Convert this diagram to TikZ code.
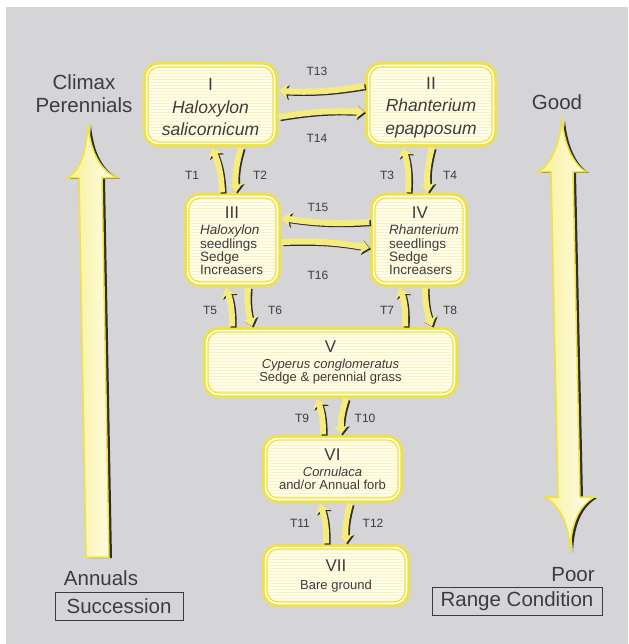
\documentclass[tikz,border=0pt]{standalone}
\usepackage{fontspec}
\setmainfont{Liberation Sans}
\usetikzlibrary{calc,arrows.meta,patterns}
\definecolor{bgc}{RGB}{213,213,216}
\definecolor{byel}{RGB}{240,226,60}
\definecolor{ayel}{RGB}{246,236,125}
\definecolor{boxfill}{RGB}{255,254,238}
\definecolor{stripe}{RGB}{251,244,190}
\definecolor{txt}{RGB}{60,60,62}
\definecolor{shad}{RGB}{45,45,50}
\tikzset{
 stbox/.style={rounded corners=11pt, inner sep=0pt, align=center, text=txt,
   preaction={draw=byel, line width=10pt},
   preaction={draw=white, line width=4.5pt},
   preaction={fill=boxfill},
   preaction={pattern=horizontal lines, pattern color=stripe},
   draw=byel, line width=1.3pt},
 trans/.style={draw=ayel, line width=6pt,
   -{Stealth[length=9pt,width=15pt,inset=2.5pt]},
   preaction={draw=shad, line width=6pt, transform canvas={shift={(1.6pt,-1.2pt)}},
     -{Stealth[length=9pt,width=15pt,inset=2.5pt]}}},
 tlab/.style={font=\fontsize{12}{12}\selectfont, text=txt},
 biglab/.style={font=\fontsize{20.5}{23}\selectfont, text=txt, align=center},
 numf/.style={font=\fontsize{17}{17}\selectfont, text=txt},
 smalltext/.style={font=\fontsize{13.5}{13.4}\selectfont, text=txt, align=left, inner sep=0pt},
 bigtext/.style={font=\fontsize{17.5}{22.5}\selectfont, text=txt, align=center, inner sep=0pt},
 framelab/.style={draw=txt, line width=0.9pt, font=\fontsize{20.5}{23}\selectfont, text=txt, inner sep=0pt},
 bigarrow/.style={left color=byel!55, right color=boxfill, draw=byel, line width=1.5pt},
}
\begin{document}
\begin{tikzpicture}[x=1pt,y=-1pt]
\useasboundingbox (0,0) rectangle (628,644);
\fill[white] (0,0) rectangle (628,644);
\fill[bgc] (6,7) rectangle (628,644);

% big arrows: shadows
\begin{scope}[shift={(3,1)}]
\fill[shad] (88,124) .. controls (91,158) and (104,172) .. (117,178) -- (102,178) -- (109,557) -- (86,557) -- (79,178) -- (67,178) .. controls (78,172) and (86,158) .. (88,124) -- cycle;
\fill[shad] (562,120) .. controls (565,150) and (576,166) .. (586,172) -- (573,172) -- (580,497) -- (594,497) .. controls (581,505) and (571,520) .. (570,552) .. controls (569,520) and (558,505) .. (545,497) -- (558,497) -- (551,172) -- (538,172) .. controls (548,166) and (559,150) .. (562,120) -- cycle;
\end{scope}
\path[bigarrow] (88,124) .. controls (91,158) and (104,172) .. (117,178) -- (102,178) -- (109,557) -- (86,557) -- (79,178) -- (67,178) .. controls (78,172) and (86,158) .. (88,124) -- cycle;
\path[bigarrow] (562,120) .. controls (565,150) and (576,166) .. (586,172) -- (573,172) -- (580,497) -- (594,497) .. controls (581,505) and (571,520) .. (570,552) .. controls (569,520) and (558,505) .. (545,497) -- (558,497) -- (551,172) -- (538,172) .. controls (548,166) and (559,150) .. (562,120) -- cycle;

% side labels
\node[biglab] (climax) at (84,94) {Climax\\Perennials};
\node[biglab] (good) at (557,102) {Good};
\node[biglab] (annuals) at (101,578) {Annuals};
\node[framelab, minimum width=128pt, minimum height=28pt] (succ) at (119,606) {Succession};
\node[biglab] (poor) at (573,575) {Poor};
\node[framelab, minimum width=170pt, minimum height=28pt] (range) at (517,601) {Range Condition};

% state boxes
\node[stbox, minimum width=125pt, minimum height=75pt] (I) at (210.5,104.5) {};
\node[stbox, minimum width=122pt, minimum height=75pt] (II) at (431,104.5) {};
\node[stbox, minimum width=87pt, minimum height=84pt] (III) at (232.5,240) {};
\node[stbox, minimum width=88pt, minimum height=84pt] (IV) at (419,240) {};
\node[stbox, minimum width=245pt, minimum height=61pt, font=\fontsize{13}{13}\selectfont] (V) at (330.5,362.5)
  {{\fontsize{17}{17}\selectfont V}\\[3pt]\textit{Cyperus conglomeratus}\\Sedge \& perennial grass};
\node[stbox, minimum width=131pt, minimum height=58pt, font=\fontsize{13}{13}\selectfont] (VI) at (332.5,469)
  {{\fontsize{17}{17}\selectfont VI}\\[3pt]\textit{Cornulaca}\\and/or Annual forb};
\node[stbox, minimum width=138pt, minimum height=53pt, font=\fontsize{13}{13}\selectfont] (VII) at (336,575.5)
  {{\fontsize{17}{17}\selectfont VII}\\[5pt]Bare ground};

% texts of I and II
\node[bigtext] (t1) at (210.5,107.5) {I\\\textit{Haloxylon}\\\textit{salicornicum}};
\node[bigtext] (t2) at (431,107.5) {II\\\textit{Rhanterium}\\\textit{epapposum}};
% texts of III and IV
\node[numf] (n3) at (232,213) {III};
\node[smalltext, anchor=west] (t3) at (200,250) {\textit{Haloxylon}\\seedlings\\Sedge\\Increasers};
\node[numf] (n4) at (420,213) {IV};
\node[smalltext, anchor=west] (t4) at (389,250) {\textit{Rhanterium}\\seedlings\\Sedge\\Increasers};

% transitions
\draw[trans] ($(II.west)+(-5,-18.5)$) to[bend left=6] ($(I.east)+(5,-13.5)$);
\draw[trans] ($(I.east)+(5,12.5)$) to[bend left=6] ($(II.west)+(-5,7.5)$);
\draw[trans] ($(IV.west)+(-5,-18)$) to[bend left=6] ($(III.east)+(5,-22)$);
\draw[trans] ($(III.east)+(5,2)$) to[bend left=6] ($(IV.west)+(-5,8)$);

\draw[trans] ($(III.north)+(-10.5,-5)$) to[bend right=10] ($(I.south)+(1.5,5)$);
\draw[trans] ($(I.south)+(30.5,5)$) to[bend right=10] ($(III.north)+(3.5,-5)$);
\draw[trans] ($(IV.north)+(-11,-5)$) to[bend right=10] ($(II.south)+(-28,5)$);
\draw[trans] ($(II.south)+(1,5)$) to[bend right=10] ($(IV.north)+(9,-5)$);

\draw[trans] ($(V.north)+(-98.5,-5)$) to[bend right=10] ($(III.south)+(-6.5,5)$);
\draw[trans] ($(III.south)+(15.5,5)$) to[bend right=10] ($(V.north)+(-78.5,-5)$);
\draw[trans] ($(V.north)+(74.5,-5)$) to[bend right=10] ($(IV.south)+(-19,5)$);
\draw[trans] ($(IV.south)+(6,5)$) to[bend right=10] ($(V.north)+(101.5,-5)$);

\draw[trans] ($(VI.north)+(-9.5,-5)$) to[bend right=10] ($(V.south)+(-13.5,5)$);
\draw[trans] ($(V.south)+(15.5,5)$) to[bend right=10] ($(VI.north)+(8.5,-5)$);
\draw[trans] ($(VII.north)+(-10,-5)$) to[bend right=10] ($(VI.south)+(-12.5,5)$);
\draw[trans] ($(VI.south)+(17.5,5)$) to[bend right=10] ($(VII.north)+(10,-5)$);

% transition labels
\node[tlab] (l13) at (317,71) {T13};
\node[tlab] (l14) at (317,138) {T14};
\node[tlab] (l1) at (192,175) {T1};
\node[tlab] (l2) at (260,175) {T2};
\node[tlab] (l3) at (387,175) {T3};
\node[tlab] (l4) at (450,175) {T4};
\node[tlab] (l15) at (318,207) {T15};
\node[tlab] (l16) at (318,275) {T16};
\node[tlab] (l5) at (210,310) {T5};
\node[tlab] (l6) at (275,310) {T6};
\node[tlab] (l7) at (387,310) {T7};
\node[tlab] (l8) at (450,310) {T8};
\node[tlab] (l9) at (302,418) {T9};
\node[tlab] (l10) at (365,418) {T10};
\node[tlab] (l11) at (300,523) {T11};
\node[tlab] (l12) at (373,523) {T12};
\end{tikzpicture}
\end{document}
